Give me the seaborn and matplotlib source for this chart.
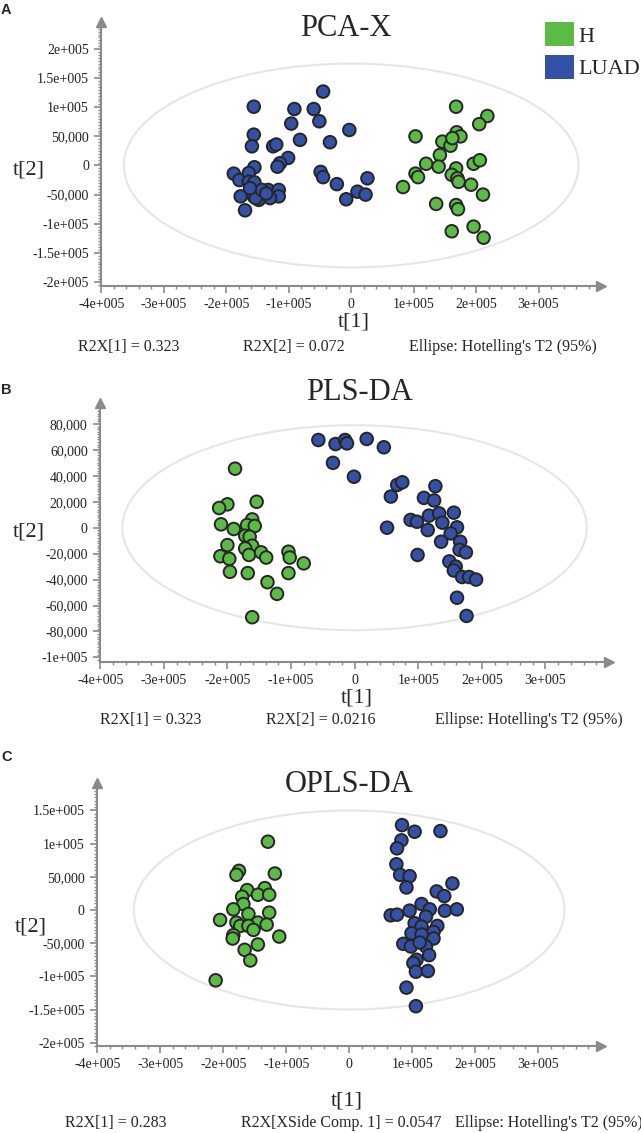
import numpy as np
import pandas as pd
import matplotlib.pyplot as plt
import seaborn as sns
from matplotlib.patches import Ellipse, Patch
from matplotlib.ticker import MultipleLocator

# colours of the two groups
green = "#5cbb47"
blue = "#3451a5"
axis_grey = "#8a8a8a"

# ---- A: PCA-X scores ----
pca_luad_t1 = [-156000, -45000, -91000, -60000, -51000, -96000, -3000, -156000, -82000, -34000,
               -159000, -125000, -120000, -101000, -114000, -118000, -155000, -188000, -179000, -164000,
               -164000, -155000, -49000, -45000, -23000, 26000, 10000, 23000, -8000, -177000,
               -156000, -148000, -133000, -116000, -116000, -130000, -153000, -170000, -143000, -136000,
               -162000]
pca_luad_t2 = [101000, 127000, 97000, 97000, 76000, 72000, 61000, 53000, 44000, 40000,
               33000, 33000, 36000, 13000, 4000, -2000, -3000, -14000, -25000, -13000,
               -28000, -29000, -11000, -20000, -32000, -22000, -45000, -50000, -58000, -53000,
               -53000, -59000, -42000, -42000, -53000, -56000, -56000, -77000, -42000, -48000,
               -39000]
pca_h_t1 = [168000, 218000, 205000, 103000, 146000, 169000, 175000, 159000, 162000, 142000,
            120000, 140000, 168000, 196000, 206000, 103000, 107000, 161000, 170000, 172000,
            83000, 192000, 211000, 136000, 168000, 171000, 161000, 196000, 212000]
pca_h_t2 = [101000, 85000, 71000, 50000, 41000, 57000, 50000, 34000, 47000, 18000,
            3000, -2000, -5000, 3000, 9000, -14000, -20000, -16000, -22000, -28000,
            -37000, -33000, -50000, -66000, -68000, -75000, -113000, -105000, -124000]

# ---- B: PLS-DA scores ----
pls_luad_t1 = [-57000, -30000, -15000, -12000, 19000, 46000, -34000, -1000, 67000, 75000,
               127000, 57000, 109000, 125000, 156000, 117000, 133000, 88000, 98000, 138000,
               161000, 51000, 115000, 151000, 136000, 166000, 165000, 175000, 99000, 149000,
               159000, 156000, 169000, 180000, 191000, 161000, 176000]
pls_luad_t2 = [67600, 64500, 67600, 65000, 68400, 62000, 50000, 39300, 33000, 35000,
               32000, 24000, 23000, 21000, 11600, 9300, 11000, 6000, 4600, 3900,
               300, 0, -1800, -4400, -10800, -10800, -17000, -19000, -21000, -26000,
               -30000, -33000, -38000, -38000, -40000, -54000, -68000]
pls_h_t1 = [-188000, -200000, -213000, -154000, -161000, -210000, -190000, -169000, -157000, -172000,
            -165000, -200000, -161000, -172000, -211000, -197000, -166000, -147000, -139000, -104000,
            -102000, -80000, -196000, -168000, -104000, -137000, -122000, -161000]
pls_h_t2 = [45500, 18000, 15200, 20000, 6400, 2600, -1000, 2000, 1300, -6200,
            -7000, -13400, -13900, -16000, -22000, -24000, -21000, -19000, -23000, -18500,
            -23000, -27500, -34000, -35000, -35000, -42000, -51000, -69000]

# ---- C: OPLS-DA scores ----
opls_h_t1 = [-129000, -175000, -179000, -118000, -134000, -162000, -145000, -127000, -170000, -168000,
             -184000, -127000, -160000, -205000, -179000, -145000, -131000, -173000, -160000, -152000,
             -184000, -185000, -111000, -145000, -166000, -157000, -212000]
opls_h_t2 = [103000, 59000, 53000, 55000, 33000, 30000, 23000, 23000, 20000, 9000,
             1000, -4000, -6000, -15000, -19000, -19000, -22000, -24000, -24000, -30000,
             -38000, -43000, -40000, -52000, -60000, -76000, -106000]
opls_luad_t1 = [84000, 104000, 145000, 83000, 76000, 75000, 81000, 96000, 91000, 164000,
                139000, 151000, 66000, 76000, 96000, 115000, 128000, 152000, 171000, 122000,
                104000, 140000, 115000, 134000, 99000, 115000, 134000, 86000, 98000, 122000,
                112000, 127000, 107000, 102000, 106000, 125000, 91000, 106000]
opls_luad_t2 = [128000, 118000, 119000, 105000, 93000, 69000, 53000, 51000, 34000, 40000,
                28000, 21000, -8000, -7000, -1000, 9000, 1000, -1000, 1000, -10000,
                -20000, -24000, -25000, -33000, -35000, -37000, -43000, -51000, -55000, -55000,
                -49000, -68000, -75000, -80000, -93000, -92000, -117000, -145000]

# tick labels (SIMCA style)
x_ticks = [-400000, -300000, -200000, -100000, 0, 100000, 200000, 300000]
x_ticklabels = ["-4e+005", "-3e+005", "-2e+005", "-1e+005", "0", "1e+005", "2e+005", "3e+005"]
y_ticks_a = [200000, 150000, 100000, 50000, 0, -50000, -100000, -150000, -200000]
y_ticklabels_a = ["2e+005", "1.5e+005", "1e+005", "50,000", "0", "-50,000", "-1e+005", "-1.5e+005", "-2e+005"]
y_ticks_b = [80000, 60000, 40000, 20000, 0, -20000, -40000, -60000, -80000, -100000]
y_ticklabels_b = ["80,000", "60,000", "40,000", "20,000", "0", "-20,000", "-40,000", "-60,000", "-80,000", "-1e+005"]
y_ticks_c = [150000, 100000, 50000, 0, -50000, -100000, -150000, -200000]
y_ticklabels_c = ["1.5e+005", "1e+005", "50,000", "0", "-50,000", "-1e+005", "-1.5e+005", "-2e+005"]

# Hotelling T2 ellipse semi-axes (t1, t2)
ellipse_a = (364000, 175000)
ellipse_b = (365000, 79000)
ellipse_c = (342000, 150000)

footer_a = ["R2X[1] = 0.323", "R2X[2] = 0.072", "Ellipse: Hotelling's T2 (95%)"]
footer_b = ["R2X[1] = 0.323", "R2X[2] = 0.0216", "Ellipse: Hotelling's T2 (95%)"]
footer_c = ["R2X[1] = 0.283", "R2X[XSide Comp. 1] = 0.0547", "Ellipse: Hotelling's T2 (95%)"]

W, H = 641, 1133


def frame(h_t1, h_t2, luad_t1, luad_t2):
    df = pd.DataFrame({
        "t1": list(h_t1) + list(luad_t1),
        "t2": list(h_t2) + list(luad_t2),
        "group": ["H"] * len(h_t1) + ["LUAD"] * len(luad_t1),
    })
    return df


def fx(px):
    return px / W


def fy(py):
    return 1 - py / H


def draw_panel(fig, box, df, ylim, yticks, yticklabels, ymin_step, ell, title, title_xy,
               ylab_xy, xlab_xy, footer, footer_x, footer_y, letter, letter_y):
    left, top, right, bottom = box
    ax = fig.add_axes([fx(left), fy(bottom), (right - left) / W, (bottom - top) / H])
    ax.add_patch(Ellipse((0, 0), 2 * ell[0], 2 * ell[1], fill=False,
                         edgecolor="#e6e6e6", linewidth=1.5, zorder=1))
    sns.scatterplot(data=df, x="t1", y="t2", hue="group",
                    palette={"H": green, "LUAD": blue}, s=82,
                    edgecolor="#262626", linewidth=1.4, legend=False, ax=ax, zorder=3)
    ax.set_xlim(-400000, 400000)
    ax.set_ylim(*ylim)
    ax.set_xticks(x_ticks)
    ax.set_xticklabels(x_ticklabels)
    ax.set_yticks(yticks)
    ax.set_yticklabels(yticklabels)
    ax.xaxis.set_minor_locator(MultipleLocator(20000))
    ax.yaxis.set_minor_locator(MultipleLocator(ymin_step))
    ax.tick_params(which="major", direction="out", length=5, width=1.2, color=axis_grey,
                   labelsize=10, labelcolor="#222222")
    ax.tick_params(which="minor", direction="out", length=2.5, width=1.0, color=axis_grey)
    ax.tick_params(axis="x", pad=4)
    ax.tick_params(axis="y", pad=4)
    ax.tick_params(which="both", bottom=True, left=True)
    for side in ["top", "right"]:
        ax.spines[side].set_visible(False)
    for side in ["left", "bottom"]:
        ax.spines[side].set_color(axis_grey)
        ax.spines[side].set_linewidth(1.5)
    # arrow heads at the axis ends
    ax.plot(1, 0, ">", color=axis_grey, markersize=7, transform=ax.transAxes, clip_on=False)
    ax.plot(0, 1, "^", color=axis_grey, markersize=7, transform=ax.transAxes, clip_on=False)

    ax.set_xlabel("t[1]", fontsize=16, va="center")
    ax.xaxis.set_label_coords(fx(xlab_xy[0]), fy(xlab_xy[1]), transform=fig.transFigure)
    ax.set_ylabel("t[2]", fontsize=16, rotation=0, va="center", ha="center")
    ax.yaxis.set_label_coords(fx(ylab_xy[0]), fy(ylab_xy[1]), transform=fig.transFigure)

    fig.text(fx(title_xy[0]), fy(title_xy[1]), title, fontsize=22, ha="center", va="center")
    for txt, x in zip(footer, footer_x):
        fig.text(fx(x), fy(footer_y), txt, fontsize=11.5, ha="left", va="center")
    fig.text(fx(1), fy(letter_y), letter, fontsize=10.5, fontweight="bold",
             family="Liberation Sans", ha="left", va="center")
    return ax


sns.set_theme(style="white")
plt.rcParams["font.family"] = ["Liberation Serif", "DejaVu Serif"]

fig = plt.figure(figsize=(W / 100, H / 100), dpi=100)

df_a = frame(pca_h_t1, pca_h_t2, pca_luad_t1, pca_luad_t2)
df_b = frame(pls_h_t1, pls_h_t2, pls_luad_t1, pls_luad_t2)
df_c = frame(opls_h_t1, opls_h_t2, opls_luad_t1, opls_luad_t2)

draw_panel(fig, (101.4, 21.7, 601, 286), df_a, (-207000, 247000), y_ticks_a, y_ticklabels_a, 5000,
           ellipse_a, "PCA-X", (345.5, 28.5), (29, 170), (353.6, 321.7),
           footer_a, [77.7, 243, 408.8], 346.7, "A", 10)
draw_panel(fig, (100.2, 403.3, 609, 661.7), df_b, (-103300, 95900), y_ticks_b, y_ticklabels_b, 2000,
           ellipse_b, "PLS-DA", (359, 393), (28.6, 531.7), (356.5, 698.3),
           footer_b, [100.2, 265.7, 435.4], 720, "B", 390)
draw_panel(fig, (97.3, 783.3, 601, 1046), df_c, (-205000, 191000), y_ticks_c, y_ticklabels_c, 5000,
           ellipse_c, "OPLS-DA", (349.5, 785), (30.7, 926.7), (346.7, 1101),
           footer_c, [64.6, 241.2, 454.6], 1123.3, "C", 757)

handles = [Patch(facecolor=green, edgecolor="none", label="H"),
           Patch(facecolor=blue, edgecolor="none", label="LUAD")]
fig.legend(handles=handles, loc="upper left", bbox_to_anchor=(fx(543), fy(20)),
           frameon=False, fontsize=16, handlelength=1.3, handleheight=1.3,
           handletextpad=0.2, labelspacing=0.35, borderpad=0.1, borderaxespad=0)

fig.savefig("out.png", dpi=100)
